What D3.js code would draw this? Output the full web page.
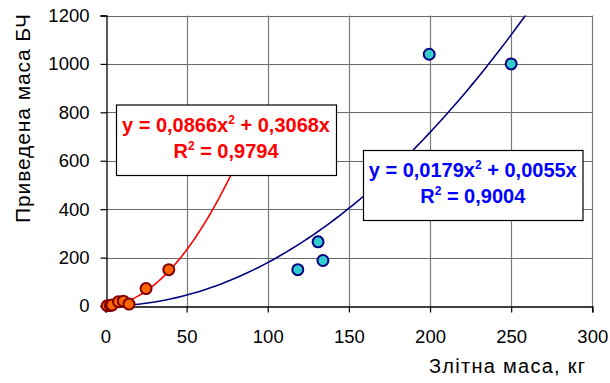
<!DOCTYPE html>
<html><head><meta charset="utf-8">
<script src="https://cdn.jsdelivr.net/npm/d3@7"></script>
<style>
html,body{margin:0;padding:0;background:#fff;}
svg{display:block;font-family:"Liberation Sans",Arial,sans-serif;}
</style></head>
<body>
<svg id="chart" width="610" height="383"></svg>
<script>
// Data
const redX = [1, 3, 4, 8, 11, 14.5, 25, 39];
const redY = [1, 2, 4, 18, 20, 8, 72, 150];
const blueX = [118.5, 131, 134, 199.5, 250];
const blueY = [150, 265, 188, 1040, 1000];
// Trendline coefficients shown on the chart: y = a*x^2 + b*x
const redCoef = [0.0866, 0.3068];
const blueCoef = [0.0179, 0.0055];
const redEq = ["y = 0,0866x", "2", " + 0,3068x"];
const redR2 = "0,9794";
const blueEq = ["y = 0,0179x", "2", " + 0,0055x"];
const blueR2 = "0,9004";
const xTicks = [0, 50, 100, 150, 200, 250, 300];
const yTicks = [0, 200, 400, 600, 800, 1000, 1200];
const xTitle = "Злітна маса, кг";
const yTitle = "Приведена маса БЧ";

const svg = d3.select("#chart");
const x = d3.scaleLinear().domain([0, 300]).range([105.5, 592.3]);
const y = d3.scaleLinear().domain([0, 1200]).range([306, 15.5]);

// grid
const g = svg.append("g");
g.selectAll("line.hg").data(yTicks.slice(1)).join("line")
  .attr("x1", x(0)).attr("x2", x(300))
  .attr("y1", d => Math.round(y(d)) + 0.5).attr("y2", d => Math.round(y(d)) + 0.5)
  .attr("stroke", "#6a6a6a").attr("stroke-width", 1.2);
g.selectAll("line.vg").data(xTicks.slice(1)).join("line")
  .attr("y1", y(0)).attr("y2", y(1200))
  .attr("x1", d => Math.round(x(d)) + 0.5).attr("x2", d => Math.round(x(d)) + 0.5)
  .attr("stroke", "#7a7a7a").attr("stroke-width", 1.2);

// axes
const xAxis = d3.axisBottom(x).tickValues(xTicks).tickSize(6).tickPadding(17).tickFormat(d3.format("d"));
const yAxis = d3.axisLeft(y).tickValues(yTicks).tickSize(6).tickPadding(11).tickFormat(d3.format("d"));
const gx = svg.append("g").attr("transform", `translate(0,${Math.round(y(0)) + 0.5})`).call(xAxis);
const gy = svg.append("g").attr("transform", `translate(${Math.round(x(0)) + 0.5},0)`).call(yAxis);
[gx, gy].forEach(a => {
  a.select(".domain").attr("stroke", "#000").attr("stroke-width", 1.3);
  a.selectAll(".tick line").attr("stroke", "#000").attr("stroke-width", 1.2);
  a.selectAll("text").attr("font-size", 18.5).attr("fill", "#000")
    .attr("font-family", '"Liberation Sans",Arial,sans-serif');
});

// clip
svg.append("clipPath").attr("id", "clip").append("rect")
  .attr("x", x(0)).attr("y", y(1200)).attr("width", x(300) - x(0)).attr("height", y(0) - y(1200));

const line = d3.line().x(d => x(d[0])).y(d => y(d[1]));
const trend = (c, x0, x1) => d3.range(x0, x1 + 0.001, (x1 - x0) / 80).map(v => [v, c[0] * v * v + c[1] * v]);

svg.append("path").datum(trend(blueCoef, 0, 270)).attr("d", line)
  .attr("fill", "none").attr("stroke", "#000080").attr("stroke-width", 1.6).attr("clip-path", "url(#clip)");
svg.append("path").datum(trend(redCoef, 0, 90)).attr("d", line)
  .attr("fill", "none").attr("stroke", "#ff0000").attr("stroke-width", 1.6).attr("clip-path", "url(#clip)");

// points
svg.append("g").selectAll("circle").data(redX.map((v, i) => [v, redY[i]])).join("circle")
  .attr("cx", d => x(d[0])).attr("cy", d => y(d[1])).attr("r", 5.5)
  .attr("fill", "#ff6600").attr("stroke", "#800000").attr("stroke-width", 2);
svg.append("g").selectAll("circle").data(blueX.map((v, i) => [v, blueY[i]])).join("circle")
  .attr("cx", d => x(d[0])).attr("cy", d => y(d[1])).attr("r", 5.5)
  .attr("fill", "#33cccc").attr("stroke", "#000080").attr("stroke-width", 2);

// equation boxes
function eqBox(bx, by, bw, bh, eq, r2, col) {
  const b = svg.append("g");
  b.append("rect").attr("x", bx + 0.5).attr("y", by + 0.5).attr("width", bw).attr("height", bh)
    .attr("fill", "#fff").attr("stroke", "#000").attr("stroke-width", 1.2);
  const t1 = b.append("text").attr("x", bx + bw / 2).attr("y", by + 27).attr("text-anchor", "middle")
    .attr("font-size", 20).attr("font-weight", "bold").attr("fill", col);
  t1.append("tspan").text(eq[0]);
  t1.append("tspan").attr("font-size", 12).attr("dy", -8).text(eq[1]);
  t1.append("tspan").attr("dy", 8).text(eq[2]);
  const t2 = b.append("text").attr("x", bx + bw / 2).attr("y", by + 53).attr("text-anchor", "middle")
    .attr("font-size", 20).attr("font-weight", "bold").attr("fill", col);
  t2.append("tspan").text("R");
  t2.append("tspan").attr("font-size", 12).attr("dy", -8).text("2");
  t2.append("tspan").attr("dy", 8).text(" = " + r2);
}
eqBox(116, 104.5, 220, 70.5, redEq, redR2, "#ff0000");
eqBox(363, 150, 219.5, 70, blueEq, blueR2, "#0000ff");

// titles
svg.append("text").attr("x", 429).attr("y", 373)
  .attr("font-size", 20).attr("fill", "#000")
  .attr("textLength", 156).attr("lengthAdjust", "spacing").text(xTitle);
svg.append("text").attr("transform", "translate(30,223) rotate(-90)")
  .attr("font-size", 21).attr("fill", "#000")
  .attr("textLength", 209).attr("lengthAdjust", "spacing").text(yTitle);
</script>
</body></html>
